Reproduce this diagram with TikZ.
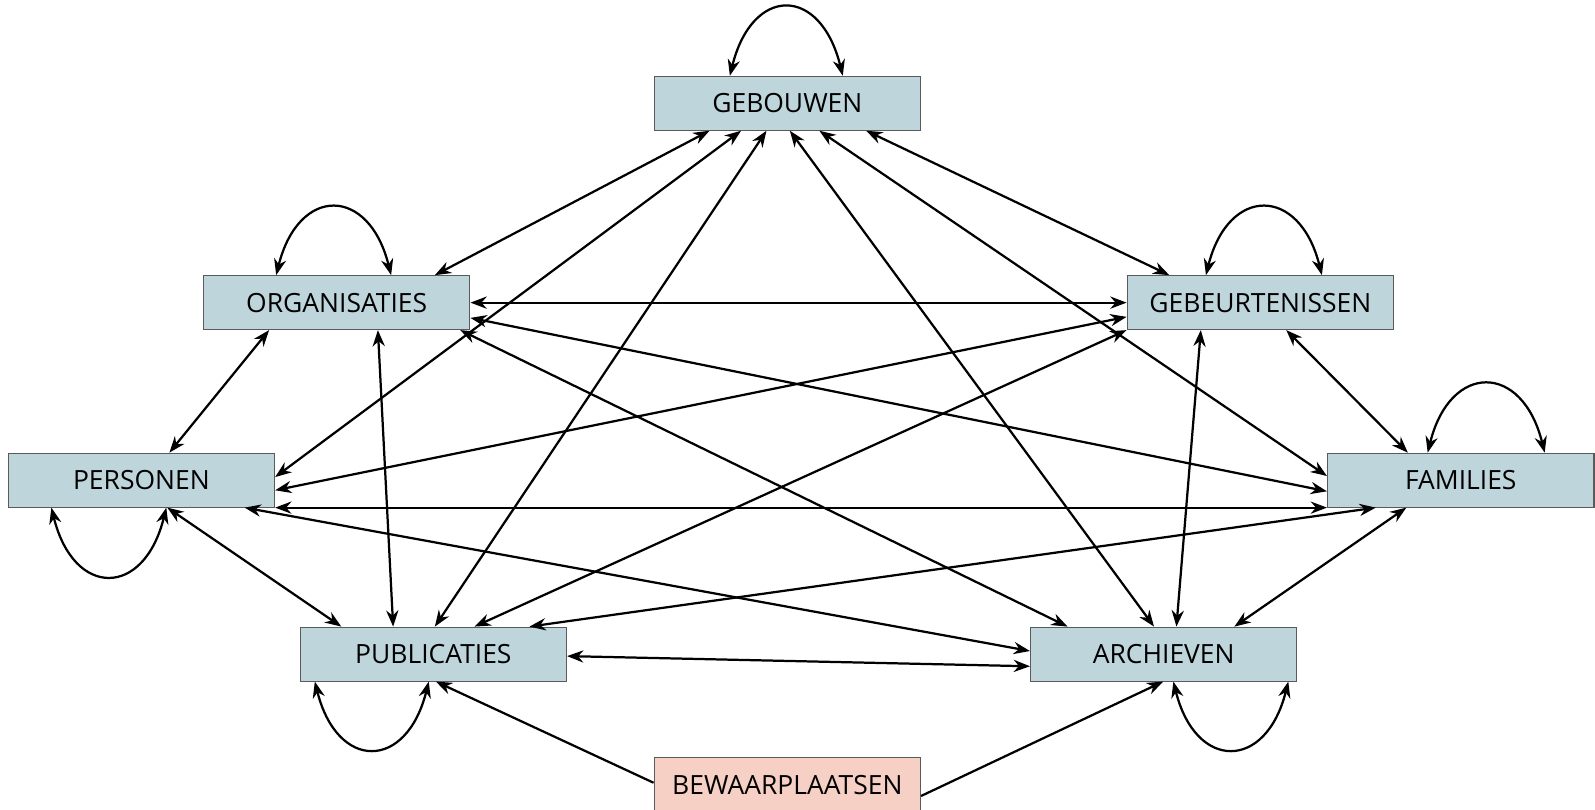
\documentclass[tikz,border=0pt]{standalone}
\usepackage{fontspec}
\setmainfont{Open Sans}
\usepackage{xcolor}
\usetikzlibrary{arrows.meta}

\definecolor{boxblue}{RGB}{190,213,219}
\definecolor{boxpink}{RGB}{246,208,196}
\definecolor{boxline}{RGB}{90,90,90}

\begin{document}
\begin{tikzpicture}[x=0.02cm, y=-0.02cm,
		>={Stealth[length=0.32cm, width=0.24cm]},
		entity/.style={draw=boxline, line width=0.6pt, fill=boxblue, text=black,
			minimum width=5.24cm, minimum height=1.06cm, inner sep=0pt,
			font=\fontsize{14.8}{16}\selectfont},
		link/.style={line width=1.25pt, <->},
		feed/.style={line width=1.25pt, ->}]
		
		\useasboundingbox (0,0) rectangle (1568,796);
		
		%entities
		\node[entity] (geb) at (774,101.5) {GEBOUWEN};
		\node[entity] (org) at (331,297.5) {ORGANISATIES};
		\node[entity] (gbt) at (1239,297.5) {GEBEURTENISSEN};
		\node[entity] (per) at (139,472) {PERSONEN};
		\node[entity] (fam) at (1436,472) {FAMILIES};
		\node[entity] (pub) at (426,643) {PUBLICATIES};
		\node[entity] (arc) at (1144,643) {ARCHIEVEN};
		\node[entity, fill=boxpink] (bew) at (774,771.5) {BEWAARPLAATSEN};
		
		%relations gebouwen
		\draw[link] ([shift={(55,0)}]geb.south west) -- ([shift={(228,0)}]org.north west);
		\draw[link] ([shift={(86,0)}]geb.south west) -- ([shift={(0,24)}]per.north east);
		\draw[link] ([shift={(111,0)}]geb.south west) -- ([shift={(133,0)}]pub.north west);
		\draw[link] ([shift={(134,0)}]geb.south west) -- ([shift={(122,0)}]arc.north west);
		\draw[link] ([shift={(163,0)}]geb.south west) -- ([shift={(0,23)}]fam.north west);
		\draw[link] ([shift={(209,0)}]geb.south west) -- ([shift={(42,0)}]gbt.north west);
		
		%relations organisaties
		\draw[link] (org.east) -- (gbt.west);
		\draw[link] ([shift={(65,0)}]org.south west) -- ([shift={(159,0)}]per.north west);
		\draw[link] ([shift={(172,0)}]org.south west) -- ([shift={(92,0)}]pub.north west);
		\draw[link] ([shift={(253,0)}]org.south west) -- ([shift={(37,0)}]arc.north west);
		\draw[link] ([shift={(0,42)}]org.north east) -- ([shift={(0,38)}]fam.north west);
		
		%relations gebeurtenissen
		\draw[link] ([shift={(0,41)}]gbt.north west) -- ([shift={(0,37)}]per.north east);
		\draw[link] (gbt.south west) -- ([shift={(172,0)}]pub.north west);
		\draw[link] ([shift={(73,0)}]gbt.south west) -- ([shift={(144,0)}]arc.north west);
		\draw[link] ([shift={(157,0)}]gbt.south west) -- ([shift={(79.5,0)}]fam.north west);
		
		%relations personen, families, publicaties
		\draw[link] (per.south east) -- (fam.south west);
		\draw[link] ([shift={(157,0)}]per.south west) -- ([shift={(41,0)}]pub.north west);
		\draw[link] ([shift={(233,0)}]per.south west) -- ([shift={(0,24)}]arc.north west);
		\draw[link] ([shift={(48,0)}]fam.south west) -- ([shift={(226,0)}]pub.north west);
		\draw[link] ([shift={(78,0)}]fam.south west) -- ([shift={(201,0)}]arc.north west);
		\draw[link] ([shift={(0,29)}]pub.north east) -- ([shift={(0,39)}]arc.north west);
		
		%bewaarplaatsen
		\draw[feed] ([shift={(0,25)}]bew.north west) -- ([shift={(134,0)}]pub.south west);
		\draw[feed] ([shift={(0,38)}]bew.north east) -- ([shift={(131,0)}]arc.south west);
		
		%self relations
		\draw[link] ([shift={(75,0)}]geb.north west) .. controls +(22,-89) and +(-22,-89) .. ([shift={(186,0)}]geb.north west);
		\draw[link] ([shift={(72,0)}]org.north west) .. controls +(22,-88) and +(-22,-88) .. ([shift={(185,0)}]org.north west);
		\draw[link] ([shift={(78,0)}]gbt.north west) .. controls +(22,-88) and +(-22,-88) .. ([shift={(192,0)}]gbt.north west);
		\draw[link] ([shift={(99,0)}]fam.north west) .. controls +(22,-89) and +(-22,-89) .. ([shift={(214,0)}]fam.north west);
		\draw[link] ([shift={(43,0)}]per.south west) .. controls +(22,89) and +(-22,89) .. ([shift={(156,0)}]per.south west);
		\draw[link] ([shift={(15,0)}]pub.south west) .. controls +(22,88) and +(-22,88) .. ([shift={(127,0)}]pub.south west);
		\draw[link] ([shift={(141,0)}]arc.south west) .. controls +(22,88) and +(-22,88) .. ([shift={(254,0)}]arc.south west);
		
\end{tikzpicture}
\end{document}
